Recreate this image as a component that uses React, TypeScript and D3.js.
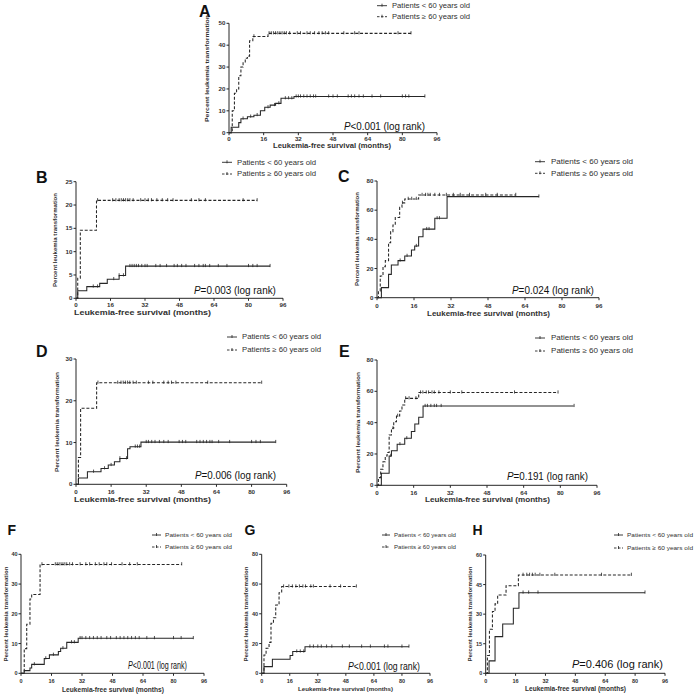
import React from 'react';
import * as d3 from 'd3';

const FONT = "'Liberation Sans', Arial, Helvetica, sans-serif";
const INK = '#262626';
const TXT = '#303030';

// ---------- shared labels ----------
const xTickValues = [0, 16, 32, 48, 64, 80, 96];
const legendYoung = 'Patients < 60 years old';
const legendOld = 'Patients \u2265 60 years old';
const xTitle = 'Leukemia-free survival (months)';
const yTitle = 'Percent leukemia transformation';

// ---------- Panel A ----------
const aOldSteps = [[1.5, 10], [2.5, 18], [3.5, 20], [4.5, 26], [5.5, 30], [6.5, 32], [7.5, 34], [8.5, 35], [9.5, 42], [11, 44], [18, 45.4]];
const aOldEnd = 84;
const aOldCens = [11.5, 18.5, 19.5, 20.5, 21.5, 22.5, 23.5, 24.5, 25.5, 26.5, 28, 31.5, 33, 36, 37.5, 39.5, 41.5, 43, 44.5, 46, 53, 58, 60, 78, 84];
const aYoungSteps = [[1, 2.5], [4.5, 4.6], [5.5, 6.4], [8.5, 7.3], [11.5, 8], [14.5, 10], [16.5, 11.6], [19, 12.6], [21.5, 13.4], [24, 15.7], [30, 16.5]];
const aYoungEnd = 90.4;
const aYoungCens = [6.5, 10, 13, 18, 21, 23, 26, 27.5, 29, 31, 32, 33, 34.5, 36, 37.5, 39, 40, 46, 48, 50, 55, 56.5, 58, 60, 62, 66, 70, 80, 81.5, 83, 90.4];

// ---------- Panel B ----------
const bOldSteps = [[0.8, 4.3], [2, 14.6], [9.5, 21]];
const bOldEnd = 84;
const bOldCens = [10, 17, 18.5, 20, 21, 22, 23, 24, 25, 26.5, 30, 32, 33.5, 35, 37.5, 40, 42.5, 45, 53.5, 57, 60, 77.5, 84];
const bYoungSteps = [[0.8, 1.6], [5, 2.5], [11, 3.2], [14.5, 4.1], [20, 4.9], [23, 6.9]];
const bYoungEnd = 90;
const bYoungCens = [8, 10, 17.5, 20, 22, 25, 26, 27, 28, 29, 30.5, 32, 33, 37, 39, 42, 45.5, 47, 49, 51, 55, 57, 59, 60, 62, 66, 70, 80, 82, 84, 90];

// ---------- Panel C ----------
const cOldSteps = [[0.6, 4.6], [1.4, 14.9], [2.6, 21.3], [3.6, 25.4], [5, 37.7], [5.9, 45.3], [6.9, 49.8], [7.9, 55], [9.8, 62], [10.8, 65], [12, 67.7], [18, 70.4]];
const cOldEnd = 60;
const cOldCens = [11, 13.5, 15, 17, 19.5, 21, 22, 23, 25, 27, 30, 33, 36, 40, 47, 52, 60];
const cYoungSteps = [[1.9, 6.9], [5, 16], [6.2, 22.4], [9.1, 25.4], [12, 28.6], [14.9, 32.7], [16.3, 35.4], [18, 41.8], [19.9, 47], [25, 54.4], [30.3, 69.3]];
const cYoungEnd = 70;
const cYoungCens = [10, 13, 17, 21.5, 22.5, 26, 27, 70];

// ---------- Panel D ----------
const dOldSteps = [[1.1, 6.4], [2.1, 18.2], [9.4, 24.3]];
const dOldEnd = 84.6;
const dOldCens = [10, 19, 20.5, 21.5, 22.5, 23.5, 24.5, 26, 27.5, 33, 35, 40, 42, 43.5, 45.5, 60, 84.6];
const dYoungSteps = [[1.1, 1.5], [5.2, 3], [11.4, 3.8], [14.7, 4.6], [17.5, 5.4], [20, 6.2], [23.5, 8.5], [24.6, 9], [29.6, 10.1]];
const dYoungEnd = 91;
const dYoungCens = [8, 13, 16, 20, 23, 27, 28, 29, 32, 33, 34.5, 36, 38, 40, 42, 47, 48.5, 50, 55, 56.5, 58, 59.5, 61, 62, 65, 70, 80, 82, 84, 91];

// ---------- Panel E ----------
const eOldSteps = [[0.6, 4.9], [1.6, 10.2], [2.6, 15], [3.6, 18.7], [4.4, 21], [5.3, 32.1], [6.3, 36.4], [7.3, 40.6], [8.5, 44.3], [9.9, 47.5], [10.9, 51.3], [12.1, 55.5], [18.2, 59.2]];
const eOldEnd = 79;
const eOldCens = [7, 9, 12.5, 14, 17, 19, 20, 21.5, 22.5, 24, 25, 27, 32, 37, 60, 79];
const eYoungSteps = [[1.9, 7.7], [5.3, 18.7], [6.3, 22.1], [8.8, 26.2], [12.1, 30], [15, 34.3], [16.5, 39.2], [18.2, 43.4], [20.1, 50.6]];
const eYoungEnd = 85.8;
const eYoungCens = [6, 10, 13, 21, 22, 23.5, 25, 26, 28, 86];

// ---------- Panel F ----------
const fOldSteps = [[1.7, 8.3], [3, 16.5], [4.7, 25], [5.6, 26.5], [10, 36.6]];
const fOldEnd = 84.3;
const fOldCens = [11, 18, 19, 20, 21, 22, 23, 24, 25.5, 27, 31, 34, 36, 39, 41, 43.5, 45, 47.5, 53, 57, 61, 84.3];
const fYoungSteps = [[1.7, 0.9], [4.7, 1.8], [5.6, 3], [12.2, 5], [14.9, 6.2], [19.6, 7.3], [20.8, 8.4], [24, 10.4], [30, 11.8]];
const fYoungEnd = 90.4;
const fYoungCens = [7, 13, 17, 22, 26.5, 28, 31, 32, 34, 36, 38, 40, 42, 45, 47, 50, 52, 54, 56, 58, 60, 62, 66, 70, 80, 84, 90.4];

// ---------- Panel G ----------
const gOldSteps = [[1.3, 12.3], [2.5, 16.8], [4.2, 20.8], [5.3, 33.6], [6.7, 37.4], [8, 45.9], [9.9, 54.2], [11.4, 58.3]];
const gOldEnd = 54;
const gOldCens = [12.5, 15.5, 17.5, 19.5, 21.5, 23.5, 25, 28, 29.5, 39, 45, 54];
const gYoungSteps = [[1.3, 4.5], [6.1, 9.4], [16.2, 11.9], [17.7, 14.6], [24.7, 17.9]];
const gYoungEnd = 84;
const gYoungCens = [20, 22, 24, 27.5, 29.5, 32, 34, 37, 40, 46, 50, 57, 62, 70, 72, 80, 84];

// ---------- Panel H ----------
const hOldSteps = [[0.9, 9], [2, 22.3], [3.6, 31.3], [5, 35.2], [6.4, 39.7], [10.9, 44.4], [17.5, 49.9]];
const hOldEnd = 78;
const hOldCens = [20, 22, 23.5, 25, 26.5, 29, 37, 62, 78];
const hYoungSteps = [[1.8, 6.3], [5, 18.6], [9.1, 25], [14.8, 33], [17.8, 40.9]];
const hYoungEnd = 85.3;
const hYoungCens = [20, 23, 28, 85.3];

// ---------- panel headers ----------
const panelLetters = ['A', 'B', 'C', 'D', 'E', 'F', 'G', 'H'];
const panelYMax = [50, 25, 80, 30, 80, 40, 80, 60];
const panelYStep = [10, 5, 20, 10, 20, 10, 20, 15];
const pOperators = ['<', '=', '=', '=', '=', '<', '<', '='];
const pValues = ['0.001', '0.003', '0.024', '0.006', '0.191', '0.001', '0.001', '0.406'];

type Layout = {
  left: number; right: number; top: number; bottom: number;
  letterX: number; letterY: number; letterSize: number;
  legLine: [number, number]; legTextX: number; legY: [number, number]; legW: number; legSize: number;
  pX: number; pY: number; pW: number; pSize: number;
  xtX: number; xtY: number; xtW: number; xtSize: number;
  ytX: number; ytC: number; ytL: number; ytSize: number;
  tickY: number; tickSize: number;
};

const layouts: Layout[] = [
  { left: 229, right: 437, top: 23.3, bottom: 132.7, letterX: 199, letterY: 16.7, letterSize: 16,
    legLine: [377, 387], legTextX: 392, legY: [5.7, 16.7], legW: 78, legSize: 7,
    pX: 344, pY: 129.5, pW: 81, pSize: 10, xtX: 273, xtY: 148, xtW: 118, xtSize: 7,
    ytX: 209, ytC: 68.5, ytL: 107, ytSize: 6.2, tickY: 141, tickSize: 6.2 },
  { left: 76, right: 283, top: 181.7, bottom: 298.3, letterX: 36, letterY: 183.3, letterSize: 16,
    legLine: [222, 232], legTextX: 237, legY: [162.3, 174], legW: 79, legSize: 7,
    pX: 194, pY: 294, pW: 82, pSize: 10, xtX: 74, xtY: 315, xtW: 137, xtSize: 7.5,
    ytX: 57, ytC: 240, ytL: 94, ytSize: 6, tickY: 306.7, tickSize: 6.2 },
  { left: 377, right: 599, top: 181, bottom: 297.7, letterX: 338, letterY: 182.3, letterSize: 16,
    legLine: [535, 545], legTextX: 551, legY: [161.7, 173.3], legW: 82, legSize: 7,
    pX: 512, pY: 294, pW: 82, pSize: 10, xtX: 427, xtY: 315.7, xtW: 123, xtSize: 7.2,
    ytX: 359, ytC: 239, ytL: 94, ytSize: 6, tickY: 308, tickSize: 6.2 },
  { left: 76, right: 286.7, top: 359, bottom: 484.3, letterX: 36, letterY: 356.7, letterSize: 16,
    legLine: [227, 237], legTextX: 242, legY: [337, 350], legW: 79, legSize: 7,
    pX: 195, pY: 479, pW: 81, pSize: 10, xtX: 74, xtY: 502, xtW: 137, xtSize: 7.5,
    ytX: 59, ytC: 422, ytL: 100, ytSize: 6.2, tickY: 494, tickSize: 6.2 },
  { left: 377, right: 597, top: 360, bottom: 485.3, letterX: 339, letterY: 356.7, letterSize: 16,
    legLine: [535, 545], legTextX: 551, legY: [338, 351], legW: 82, legSize: 7,
    pX: 507, pY: 480, pW: 81, pSize: 10, xtX: 425, xtY: 502, xtW: 125, xtSize: 7.2,
    ytX: 360, ytC: 422.5, ytL: 101, ytSize: 6.2, tickY: 495, tickSize: 6.2 },
  { left: 21, right: 204, top: 554.3, bottom: 673.3, letterX: 7.5, letterY: 535, letterSize: 14,
    legLine: [152, 161], legTextX: 165, legY: [535, 547], legW: 67, legSize: 6.2,
    pX: 128, pY: 669, pW: 59, pSize: 10, xtX: 62, xtY: 691.5, xtW: 102, xtSize: 6.5,
    ytX: 8, ytC: 614, ytL: 95, ytSize: 5.6, tickY: 683, tickSize: 5.5 },
  { left: 261.7, right: 430, top: 554.3, bottom: 673.3, letterX: 244.5, letterY: 535, letterSize: 14,
    legLine: [382, 390], legTextX: 394, legY: [535, 547], legW: 62, legSize: 6,
    pX: 348, pY: 670, pW: 72, pSize: 10, xtX: 298, xtY: 691, xtW: 95, xtSize: 6.2,
    ytX: 248, ytC: 614, ytL: 95, ytSize: 5.6, tickY: 683, tickSize: 5.5 },
  { left: 485.7, right: 665, top: 555, bottom: 673.3, letterX: 472.5, letterY: 535, letterSize: 14,
    legLine: [614, 623], legTextX: 627, legY: [535, 548], legW: 66, legSize: 6.2,
    pX: 572, pY: 668, pW: 91, pSize: 10.5, xtX: 525, xtY: 691, xtW: 101, xtSize: 6.5,
    ytX: 472, ytC: 614, ytL: 95, ytSize: 5.6, tickY: 683, tickSize: 5.5 },
];

const oldSeries = [
  [aOldSteps, aOldEnd, aOldCens], [bOldSteps, bOldEnd, bOldCens], [cOldSteps, cOldEnd, cOldCens], [dOldSteps, dOldEnd, dOldCens],
  [eOldSteps, eOldEnd, eOldCens], [fOldSteps, fOldEnd, fOldCens], [gOldSteps, gOldEnd, gOldCens], [hOldSteps, hOldEnd, hOldCens],
] as [number[][], number, number[]][];
const youngSeries = [
  [aYoungSteps, aYoungEnd, aYoungCens], [bYoungSteps, bYoungEnd, bYoungCens], [cYoungSteps, cYoungEnd, cYoungCens], [dYoungSteps, dYoungEnd, dYoungCens],
  [eYoungSteps, eYoungEnd, eYoungCens], [fYoungSteps, fYoungEnd, fYoungCens], [gYoungSteps, gYoungEnd, gYoungCens], [hYoungSteps, hYoungEnd, hYoungCens],
] as [number[][], number, number[]][];

const DASH = '3,1.8';
// natural width of "P<0.001 (log rank)" in Arial-metric font, in em
const P_TEXT_EM = 8.25;

function valueAt(steps: number[][], t: number) {
  let v = 0;
  for (const s of steps) if (s[0] <= t) v = s[1];
  return v;
}

function Curve({ steps, end, cens, x, y, dashed }: any) {
  const pts: [number, number][] = [[0, 0], ...steps.map((s: number[]) => [s[0], s[1]] as [number, number])];
  pts.push([end, steps[steps.length - 1][1]]);
  const line = d3.line<[number, number]>().x(d => x(d[0])).y(d => y(d[1])).curve(d3.curveStepAfter);
  return (
    <g>
      <path d={line(pts) || ''} fill="none" stroke={INK} strokeWidth={1.05} strokeDasharray={dashed ? DASH : undefined} />
      {cens.map((t: number, i: number) => {
        const cx = x(t);
        const cy = y(valueAt(steps, t));
        return <line key={i} x1={cx} x2={cx} y1={cy - 2.2} y2={cy + 1} stroke={INK} strokeWidth={0.8} />;
      })}
    </g>
  );
}

function Panel({ idx }: { idx: number }) {
  const L = layouts[idx];
  const x = d3.scaleLinear().domain([0, 96]).range([L.left, L.right]);
  const y = d3.scaleLinear().domain([0, panelYMax[idx]]).range([L.bottom, L.top]);
  const yTicks = d3.range(0, panelYMax[idx] + 0.001, panelYStep[idx]);
  const [oS, oE, oC] = oldSeries[idx];
  const [yS, yE, yC] = youngSeries[idx];
  const legMid = (L.legLine[0] + L.legLine[1]) / 2;
  const pScale = L.pW / (P_TEXT_EM * L.pSize);
  return (
    <g>
      {/* panel letter */}
      <text x={L.letterX} y={L.letterY} fontFamily={FONT} fontWeight="bold" fontSize={L.letterSize} fill="#111">{panelLetters[idx]}</text>
      {/* legend */}
      <line x1={L.legLine[0]} x2={L.legLine[1]} y1={L.legY[0]} y2={L.legY[0]} stroke={INK} strokeWidth={0.9} />
      <line x1={legMid} x2={legMid} y1={L.legY[0] - 2} y2={L.legY[0] + 1} stroke={INK} strokeWidth={0.8} />
      <line x1={L.legLine[0]} x2={L.legLine[1]} y1={L.legY[1]} y2={L.legY[1]} stroke={INK} strokeWidth={0.9} strokeDasharray="2.5,1.5" />
      <line x1={legMid} x2={legMid} y1={L.legY[1] - 2} y2={L.legY[1] + 1} stroke={INK} strokeWidth={0.8} />
      <text x={L.legTextX} y={L.legY[0] + 2.3} fontFamily={FONT} fontSize={L.legSize} fill={TXT} textLength={L.legW} lengthAdjust="spacingAndGlyphs">{legendYoung}</text>
      <text x={L.legTextX} y={L.legY[1] + 2.3} fontFamily={FONT} fontSize={L.legSize} fill={TXT} textLength={L.legW} lengthAdjust="spacingAndGlyphs">{legendOld}</text>
      {/* axes */}
      <line x1={L.left} x2={L.left} y1={L.top} y2={L.bottom} stroke={INK} strokeWidth={1} />
      <line x1={L.left} x2={L.right} y1={L.bottom} y2={L.bottom} stroke={INK} strokeWidth={1} />
      {yTicks.map(v => (
        <g key={'y' + v}>
          <line x1={L.left - 2.5} x2={L.left} y1={y(v)} y2={y(v)} stroke={INK} strokeWidth={1} />
          <text x={L.left - 3.5} y={y(v) + 2} textAnchor="end" fontFamily={FONT} fontWeight="bold" fontSize={L.tickSize} fill={TXT}>{v}</text>
        </g>
      ))}
      {xTickValues.map(v => (
        <g key={'x' + v}>
          <line x1={x(v)} x2={x(v)} y1={L.bottom} y2={L.bottom + 2.5} stroke={INK} strokeWidth={1} />
          <text x={x(v)} y={L.tickY} textAnchor="middle" fontFamily={FONT} fontWeight="bold" fontSize={L.tickSize} fill={TXT}>{v}</text>
        </g>
      ))}
      {/* axis titles */}
      <text x={L.xtX} y={L.xtY} fontFamily={FONT} fontWeight="bold" fontSize={L.xtSize} fill={TXT} textLength={L.xtW} lengthAdjust="spacingAndGlyphs">{xTitle}</text>
      <text transform={`translate(${L.ytX},${L.ytC}) rotate(-90)`} textAnchor="middle" fontFamily={FONT} fontWeight="bold" fontSize={L.ytSize} fill={TXT} textLength={L.ytL} lengthAdjust="spacingAndGlyphs">{yTitle}</text>
      {/* curves */}
      <Curve steps={yS} end={yE} cens={yC} x={x} y={y} dashed={false} />
      <Curve steps={oS} end={oE} cens={oC} x={x} y={y} dashed={true} />
      {/* p value */}
      <text transform={`translate(${L.pX},${L.pY}) scale(${pScale},1)`} x={0} y={0} fontFamily={FONT} fontSize={L.pSize} fill="#111">
        <tspan fontStyle="italic">P</tspan>{pOperators[idx] + pValues[idx] + ' (log rank)'}
      </text>
    </g>
  );
}

export default function App() {
  return (
    <svg width={697} height={697} viewBox="0 0 697 697" style={{ position: 'absolute', left: 0, top: 0, background: '#fff' }}>
      <rect x={0} y={0} width={697} height={697} fill="#fff" />
      {panelLetters.map((_, i) => <Panel key={i} idx={i} />)}
    </svg>
  );
}
